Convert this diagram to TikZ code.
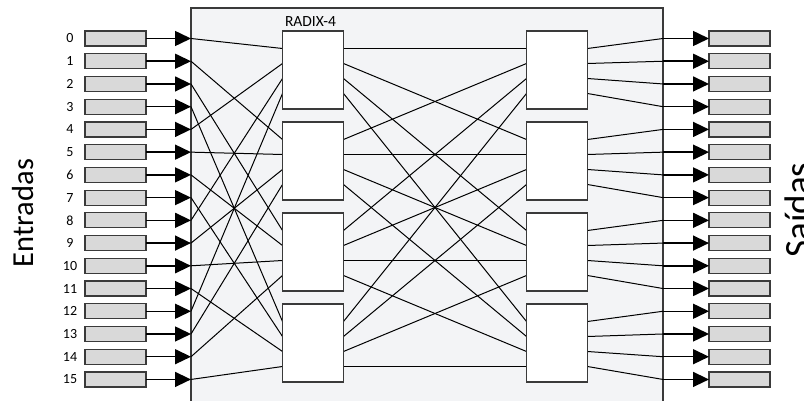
\documentclass[tikz,border=0pt]{standalone}
\usepackage{fontspec}
\setmainfont{Carlito}
\usetikzlibrary{arrows.meta}
\definecolor{panel}{HTML}{F3F4F6}
\definecolor{cellgray}{HTML}{D9D9D9}
\definecolor{edge}{HTML}{3A3A3A}
\tikzset{
  cell/.style={draw=edge, fill=cellgray, line width=1.2pt, minimum width=61pt,
    minimum height=15pt, inner sep=0pt, outer sep=0pt},
  switchbox/.style={draw=edge, fill=white, line width=1.2pt, minimum width=61pt,
    minimum height=78pt, inner sep=0pt, outer sep=0pt, anchor=north west},
  feed/.style={line width=1.5pt, -{Triangle[length=16pt,width=15pt]}},
  wire/.style={line width=1pt},
  idx/.style={font=\fontsize{14}{16}\selectfont, inner sep=0pt},
}
\begin{document}
\begin{tikzpicture}[x=1pt,y=-1pt]
\useasboundingbox (0,0) rectangle (804,401);

% network panel
\node[draw=edge, fill=panel, line width=1.2pt, minimum width=472pt,
  minimum height=400pt, inner sep=0pt, outer sep=0pt, anchor=north west]
  (net) at (191,8) {};

% input and output cells, indices, and the points where the feeds meet the panel
\foreach \i in {0,...,15} {
  \pgfmathsetmacro\yy{38.5+22.73*\i}
  \node[cell] (in\i) at (115.5,\yy) {};
  \node[idx] (lbl\i) at (70,\yy) {\i};
  \coordinate (a\i) at (191,\yy);
  \node[cell] (out\i) at (739.5,\yy) {};
  \coordinate (b\i) at (663,\yy);
  \draw[feed] (in\i.east) -- (a\i);
  \draw[feed] (b\i) -- (out\i.west);
}

% switch ports
\foreach \s in {0,...,3} {
  \foreach \k in {0,...,3} {
    \pgfmathsetmacro\py{31+91*\s+17.5+15*\k}
    \coordinate (SL\s\k) at (282.5,\py);
    \coordinate (SR\s\k) at (343.5,\py);
    \coordinate (RL\s\k) at (526.5,\py);
    \coordinate (RR\s\k) at (587.5,\py);
  }
}

% input i -> first stage switch (i mod 4), port (i div 4)
\foreach \i in {0,...,15} {
  \pgfmathtruncatemacro\sw{mod(\i,4)}
  \pgfmathtruncatemacro\pt{div(\i,4)}
  \draw[wire] (a\i) -- (SL\sw\pt);
}

% first stage switch s, port k -> second stage switch k, port s
\foreach \s in {0,...,3} {
  \foreach \k in {0,...,3} {
    \draw[wire] (SR\s\k) -- (RL\k\s);
  }
}

% second stage switch k, port m -> output 4k+m
\foreach \k in {0,...,3} {
  \foreach \m in {0,...,3} {
    \pgfmathtruncatemacro\o{4*\k+\m}
    \draw[wire] (RR\k\m) -- (b\o);
  }
}

% switches
\foreach \s in {0,...,3} {
  \pgfmathsetmacro\ty{31+91*\s}
  \node[switchbox] (S\s) at (282.5,\ty) {};
  \node[switchbox] (R\s) at (526.5,\ty) {};
}

\node[font=\fontsize{15.5}{17}\selectfont, anchor=base, inner sep=0pt]
  (radix) at (310.5,27) {RADIX-4};

\node[rotate=90, font=\fontsize{30.5}{34}\selectfont, inner sep=0pt]
  (inputs) at (23,213) {Entradas};
\node[rotate=90, font=\fontsize{37}{40}\selectfont, inner sep=0pt, anchor=base]
  (outputs) at (810,210) {Saídas};
\end{tikzpicture}
\end{document}
